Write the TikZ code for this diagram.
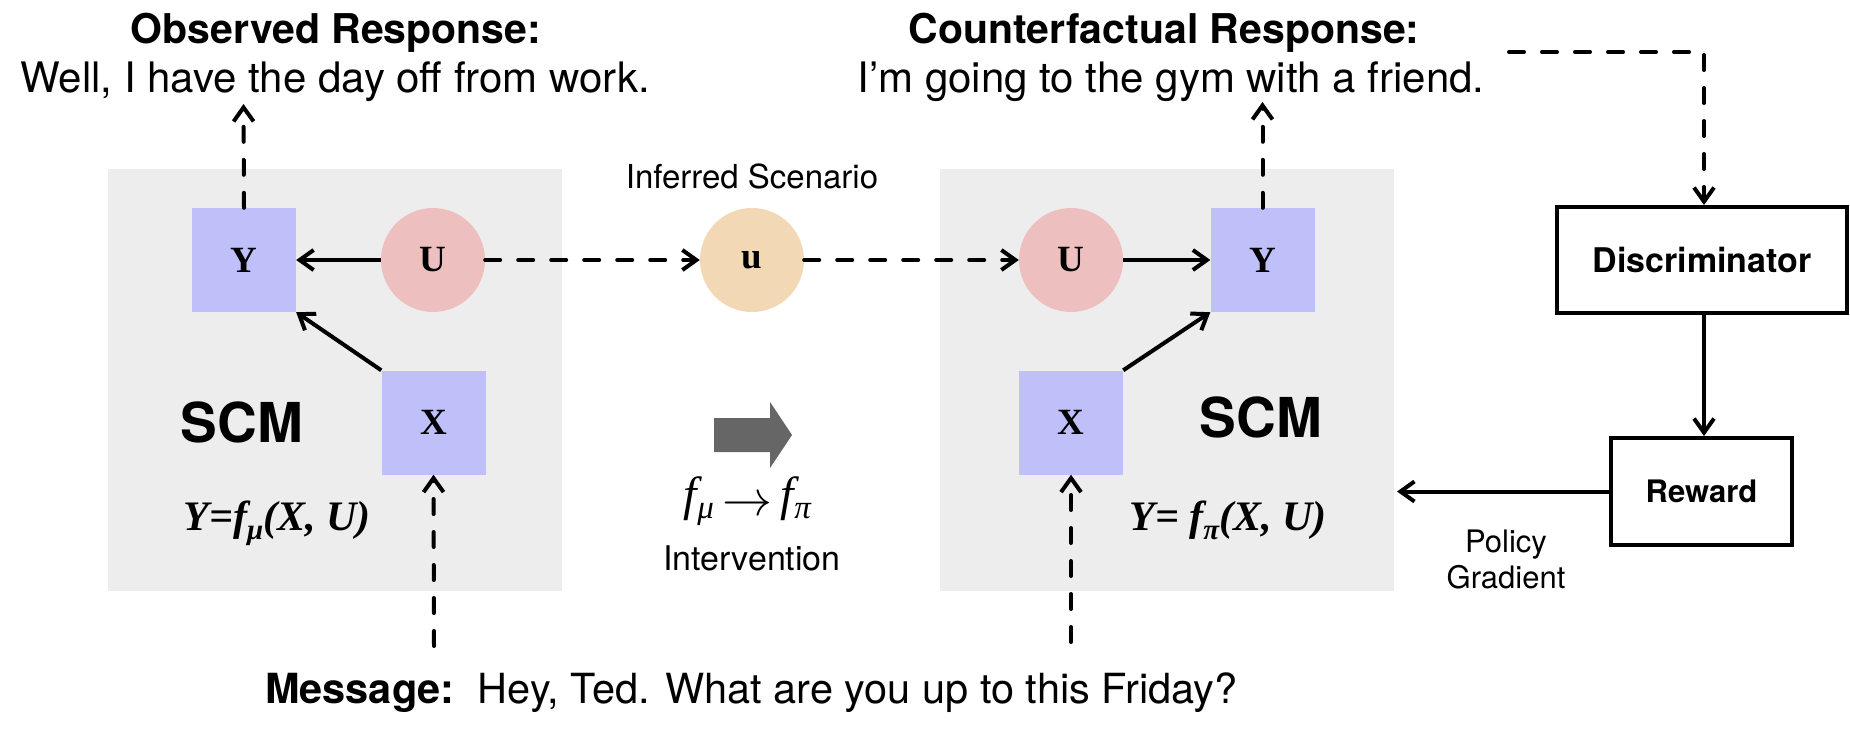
\RequirePackage{fix-cm}
\documentclass[tikz,border=0pt]{standalone}
\usepackage{fontspec}
\setmainfont{TeX Gyre Heros}
\newfontfamily\tms{Liberation Serif}
\usetikzlibrary{arrows.meta}
\definecolor{scmgray}{HTML}{EDEDED}
\definecolor{nodeblue}{HTML}{BFBFFA}
\definecolor{nodepink}{HTML}{EEBFBF}
\definecolor{nodetan}{HTML}{F2D8B4}
\definecolor{arrowgray}{HTML}{666666}
\newcommand{\fsz}[1]{\fontsize{#1}{#1}\selectfont}
\begin{document}
\begin{tikzpicture}[x=1pt,y=-1pt,
  scmbox/.style={fill=scmgray, minimum width=454pt, minimum height=422pt, inner sep=0pt},
  varbox/.style={fill=nodeblue, minimum size=104pt, inner sep=0pt, font=\tms\bfseries\fsz{37}},
  varcirc/.style={circle, fill=nodepink, minimum size=104pt, inner sep=0pt, font=\tms\bfseries\fsz{37}},
  blockbox/.style={draw, line width=4pt, inner sep=0pt},
  lbl/.style={inner sep=0pt, anchor=base},
  conn/.style={line width=4pt, -{Straight Barb[length=14pt,width=20pt]}},
  dconn/.style={conn, dash pattern=on 15pt off 18pt, line cap=round},
]
\useasboundingbox (0,0) rectangle (1850,729);

% SCM boxes
\node[scmbox] (L) at (335,380) {};
\node[scmbox] (R) at (1167,380) {};

% variables
\node[varbox] (LY) at (244,260) {Y};
\node[varcirc] (LU) at (433,260) {U};
\node[varbox] (LX) at (433.5,422.5) {X};
\node[varcirc, fill=nodetan] (u) at (752,260) {u};
\node[varcirc] (RU) at (1071,260) {U};
\node[varbox] (RY) at (1262.5,260) {Y};
\node[varbox] (RX) at (1071,422.5) {X};

% right blocks
\node[blockbox, minimum width=290pt, minimum height=106pt, font=\bfseries\fsz{34}] (D) at (1702,260) {Discriminator};
\node[blockbox, minimum width=181pt, minimum height=107pt, font=\bfseries\fsz{31}] (W) at (1701.5,491.5) {Reward};

% texts
\node[lbl, font=\bfseries\fsz{41}] (obsT) at (336,43) {Observed Response:};
\node[lbl, font=\fsz{42}] (obs) at (335,92) {Well, I have the day off from work.};
\node[lbl, font=\bfseries\fsz{41}] (cfT) at (1164,43) {Counterfactual Response:};
\node[lbl, font=\fsz{42}] (cf) at (1171,92) {I’m going to the gym with a friend.};
\node[lbl, font=\fsz{33}] (inf) at (752,188) {Inferred Scenario};
\node[lbl, font=\bfseries\fsz{55}] (scmL) at (242,442) {SCM};
\node[lbl, font=\bfseries\fsz{55}] (scmR) at (1261,437) {SCM};
\node[lbl, font=\tms\bfseries\itshape\fsz{42}] (fL) at (277,530) {Y=f\raisebox{-9pt}{\fsz{29}μ}(X, U)};
\node[lbl, font=\tms\bfseries\itshape\fsz{42}] (fR) at (1228,530) {Y= f\raisebox{-9pt}{\fsz{29}π}(X, U)};
\node[lbl, font=\tms\itshape\fsz{48}] (fmap) at (747,510) {f\kern1pt\raisebox{-8pt}{\fsz{33}μ}\hspace{8pt}\raisebox{-5.5pt}{\resizebox{50pt}{!}{$\rightarrow$}}\hspace{8pt}f\kern1pt\raisebox{-8pt}{\fsz{33}π}};
\node[lbl, font=\fsz{34}] (intv) at (752,570) {Intervention};
\node[lbl, font=\fsz{31}] (pg1) at (1506,552) {Policy};
\node[lbl, font=\fsz{31}] (pg2) at (1506,588) {Gradient};
\node[lbl, anchor=base west, font=\fsz{41.5}] (msg) at (265,703) {\textbf{Message:}\ \ Hey, Ted. What are you up to this Friday?};

% intervention block arrow
\fill[arrowgray] (714,418) -- (770,418) -- (770,402) -- (792,435) -- (770,468) -- (770,452) -- (714,452) -- cycle;

% free ends
\coordinate (oa) at (243.5,104);
\coordinate (ca) at (1262.5,102);
\coordinate (m1) at (434,646);
\coordinate (m2) at (1071,642);
\coordinate (d0) at (1509,52);
\coordinate (d1) at (1704,52);
\coordinate (rg) at (1397,491.5);

% connectors
\draw[conn] (LU) -- (LY);
\draw[conn] (LX.north west) -- (LY.south east);
\draw[conn] (RU) -- (RY);
\draw[conn] (RX.north east) -- (RY.south west);
\draw[dconn] (LU) -- (u);
\draw[dconn] (u) -- (RU);
\draw[dconn] (LY.north) -- (oa);
\draw[dconn] (RY.north) -- (ca);
\draw[dconn] (m1) -- (LX.south);
\draw[dconn] (m2) -- (RX.south);
\draw[dconn] (d0) -- (d1) -- (D.north -| d1);
\draw[conn] (D.south -| d1) -- (W.north -| d1);
\draw[conn] (W.west) -- (rg);
\end{tikzpicture}
\end{document}
